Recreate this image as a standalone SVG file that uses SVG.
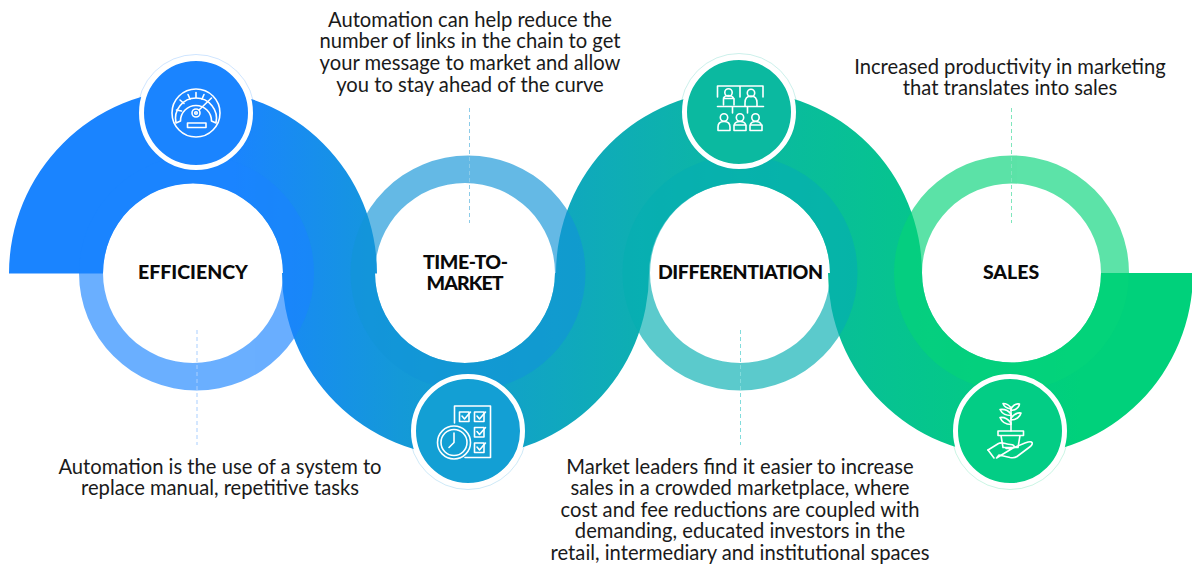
<svg xmlns="http://www.w3.org/2000/svg" width="1192" height="566" viewBox="0 0 1192 566">
<style>
.b{font-family:"Lato","Liberation Sans",sans-serif;font-size:20.2px;fill:#1a1a1a;text-anchor:middle}
.h{font-family:"Lato","Liberation Sans",sans-serif;font-size:19.5px;font-weight:900;fill:#0a0a0a;text-anchor:middle}
.i{fill:none;stroke:#fff;stroke-width:1.6;stroke-linejoin:round;stroke-linecap:round}
.d{fill:none;stroke-width:1;stroke-dasharray:4 3}
.o{fill:none;stroke-width:.7;opacity:.3}
.w{stroke:#fff;stroke-width:5}
</style>
<defs>
<linearGradient id="g" gradientUnits="userSpaceOnUse" x1="230" y1="0" x2="1080" y2="0">
<stop offset="0" stop-color="#1a84ff"/>
<stop offset=".2" stop-color="#1499d8"/>
<stop offset=".6" stop-color="#0bb8a2"/>
<stop offset="1" stop-color="#00d17b"/>
</linearGradient>
</defs>
<g id="bands">
<path fill="url(#g)" d="M9 273.500A184 184 0 0 1 377 273.500H283A90 90 0 0 0 103 273.500Z"/>
<path fill="url(#g)" d="M282 273A183.500 183.500 0 0 0 649 273H555A90 90 0 0 1 375 273Z"/>
<path fill="url(#g)" d="M556 273.500A183 183 0 0 1 922 273.500H830A90.500 90.500 0 0 0 649 273.500Z"/>
<path fill="url(#g)" d="M828 273A182.500 182.500 0 0 0 1193 273H1101A89.500 89.500 0 0 1 922 273Z"/>
</g>
<g id="rings" fill-rule="evenodd" opacity=".65">
<path fill="#1a84ff" d="M79 273a117.500 117.500 0 1 0 235 0a117.500 117.500 0 1 0-235 0ZM103 273a90 90 0 1 0 180 0a90 90 0 1 0-180 0Z"/>
<path fill="#1295d8" d="M350.500 273a117.500 117.500 0 1 0 235 0a117.500 117.500 0 1 0-235 0ZM375 273a90 90 0 1 0 180 0a90 90 0 1 0-180 0Z"/>
<path fill="#05afb2" d="M622.500 273a117.500 117.500 0 1 0 235 0a117.500 117.500 0 1 0-235 0ZM650 273a90 90 0 1 0 180 0a90 90 0 1 0-180 0Z"/>
<path fill="#05d479" d="M894 273a117.500 117.500 0 1 0 235 0a117.500 117.500 0 1 0-235 0ZM922 273a89.500 89.500 0 1 0 179 0a89.500 89.500 0 1 0-179 0Z"/>
</g>
<g id="connectors">
<path class="d" stroke="#a9cfff" d="M197 330V445"/>
<path class="d" stroke="#8ccbe8" d="M469.500 108V223"/>
<path class="d" stroke="#82dcdc" d="M740.500 330V445"/>
<path class="d" stroke="#7fe6bc" d="M1011.500 108V223"/>
</g>
<g id="efficiency">
<circle class="o" stroke="#1a84ff" cx="196" cy="113" r="58.500"/>
<circle class="w" fill="#1a84ff" cx="196" cy="113" r="54.500"/>
<g class="i">
<circle cx="196" cy="113" r="24"/>
<path d="M180.500 121l-4.500 2a20.500 20.500 0 1 1 40 0l-4.500-2a15.500 15.500 0 1 0-31 0Z"/>
<path d="M176.500 110l5 1M180 100l4 3.500M188 94.500l2 4.500M196 92.500v5M204 94.500l-2 4.500"/>
<circle cx="196" cy="113" r="4"/><circle cx="196" cy="113" r="1.300"/>
<path d="M199 110l12.500-12"/>
<rect x="187.500" y="123" width="18.500" height="4.500"/>
</g>
<text class="h" x="193" y="279">EFFICIENCY</text>
<text class="b" x="220" y="474">Automation is the use of a system to</text>
<text class="b" x="220" y="495">replace manual, repetitive tasks</text>
</g>
<g id="time-to-market">
<circle class="o" stroke="#1295d8" cx="468" cy="431" r="58.500"/>
<circle class="w" fill="#139fd4" cx="468" cy="431" r="54.500"/>
<g class="i">
<path d="M454.500 423V406H490.500V457.500H465"/>
<path d="M459.500 412h9.500v9.500h-9.500ZM474.500 412h9.500v9.500h-9.500ZM474.500 427.500h9.500v9.500h-9.500ZM474.500 443h9.500v9.500h-9.500Z"/>
<path d="M462 416l2.500 3 6-7M477 416l2.500 3 6-7M477 431.500l2.500 3 6-7M477 447l2.500 3 6-7"/>
<circle cx="454" cy="442.500" r="16.500"/><circle cx="454" cy="442.500" r="13"/>
<path d="M454 433v9.500l-5 5"/>
</g>
<text class="h" x="465.500" y="269" textLength="85">TIME-TO-</text>
<text class="h" x="465" y="290" textLength="77">MARKET</text>
<text class="b" x="470" y="27">Automation can help reduce the</text>
<text class="b" x="470" y="48">number of links in the chain to get</text>
<text class="b" x="470" y="70">your message to market and allow</text>
<text class="b" x="470" y="92">you to stay ahead of the curve</text>
</g>
<g id="differentiation">
<circle class="o" stroke="#0ab8a0" cx="739" cy="112" r="58.500"/>
<circle class="w" fill="#0bb9a0" cx="739" cy="112" r="54.500"/>
<g class="i">
<path d="M717.500 97V86H763V97M740 86V97M717.500 106.500H763.500M732.500 106.500V113M747.500 106.500V113"/>
<circle cx="728.500" cy="92.500" r="3.700"/><circle cx="751" cy="93" r="3.700"/>
<path d="M723.500 105V98.500H734V105M723.500 98c1-2 3-2.500 5-2.500s4 .5 5 2.500"/>
<path d="M745 106V103c0-5 2.500-7 6-7s6 2 6 7v3"/>
<circle cx="724" cy="117.500" r="3.700"/><circle cx="740" cy="117.500" r="3.700"/><circle cx="755.500" cy="117.500" r="3.700"/>
<path d="M718 130.500V127c0-4 2.500-5.500 6-5.500s6 1.500 6 5.500v3.500Z"/>
<path d="M734 130.500V125h12v5.500ZM734.500 124c1-2 3-2.500 5.500-2.500s4.500.5 5.500 2.500"/>
<path d="M750 130.500V125h12v5.500ZM750.500 124c1-2 3-2.500 5-2.500s4.500.5 5.500 2.500"/>
</g>
<text class="h" x="740.500" y="279" textLength="165">DIFFERENTIATION</text>
<text class="b" x="740" y="474">Market leaders find it easier to increase</text>
<text class="b" x="740" y="495">sales in a crowded marketplace, where</text>
<text class="b" x="740" y="517">cost and fee reductions are coupled with</text>
<text class="b" x="740" y="538">demanding, educated investors in the</text>
<text class="b" x="740" y="560">retail, intermediary and institutional spaces</text>
</g>
<g id="sales">
<circle class="o" stroke="#00d17b" cx="1010" cy="431" r="58.500"/>
<circle class="w" fill="#03cd85" cx="1010" cy="431" r="54.500"/>
<g class="i">
<path d="M998 431h25.500v4.500H998ZM1001 435.500l2 12h15l2-12"/>
<path d="M1011 431V407"/>
<path d="M1011 423c-3-4-7-6-11-5.500 2 5 6 7 11 7ZM1011 418c3-4 6.500-5.500 10-5 -1 4-5 7-10 7ZM1011 414c-3-4-7-5-11-4.500 2 4 6 6 11 6ZM1011 409c2-4 5-5.500 8.500-5-.5 3.500-4 6-8.500 6.500ZM1011 408c-2-3-5-4.500-8-4.500 1 3 4 5 8 5.500Z"/>
<path d="M988 450l10.500-6.500c4-2 7 1 12 1 3 0 4 1.500 3.500 2.500-1 1.500-5 1.500-8 1.500M1013 448l12-5c3-1 6-2 7-.5 1 1.500-1 3.500-3 5l-12 9c-2 1.500-4 1.500-7 1l-11-2.500-2.500 3Z"/>
<path d="M988 450l6 8"/>
</g>
<text class="h" x="1011" y="279">SALES</text>
<text class="b" x="1010" y="74">Increased productivity in marketing</text>
<text class="b" x="1010" y="95">that translates into sales</text>
</g>
</svg>
